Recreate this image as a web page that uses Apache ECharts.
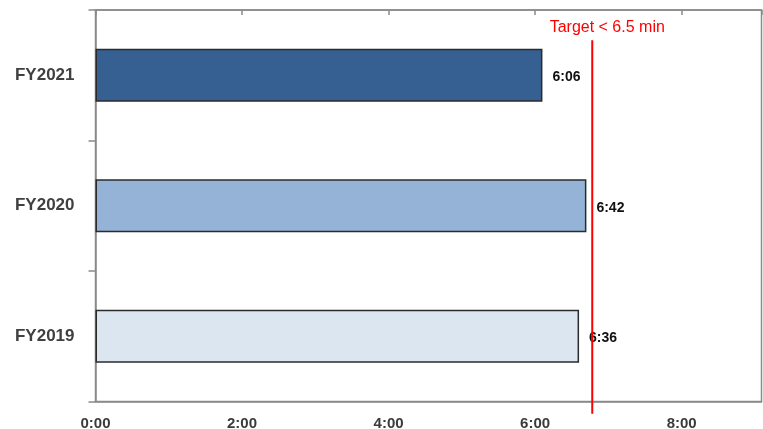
<!DOCTYPE html>
<html>
<head>
<meta charset="utf-8">
<script src="https://cdn.jsdelivr.net/npm/echarts@6/dist/echarts.min.js"></script>
<style>
html,body{margin:0;padding:0;background:#fff;}
#chart{width:763px;height:429px;}
</style>
</head>
<body>
<div id="chart"></div>
<script>
// Data (minutes)
var categories = ['FY2019', 'FY2020', 'FY2021'];
var times = [6.6, 6.7, 6.1];           // 6:36, 6:42, 6:06
var barColors = ['#dce6f1', '#95b3d7', '#366092'];
var xTickLabels = ['0:00', '2:00', '4:00', '6:00', '8:00'];
var targetValue = 6.78;                 // where the target line is drawn
var targetText = 'Target < 6.5 min';
var targetSpan = [-0.031, 0.923];       // vertical extent on hidden helper axis

function fmt(v) {
  var m = Math.floor(v + 1e-9);
  var s = Math.round((v - m) * 60);
  if (s === 60) { m += 1; s = 0; }
  return m + ':' + (s < 10 ? '0' : '') + s;
}

var chart = echarts.init(document.getElementById('chart'));
var font = 'Liberation Sans, Arial, sans-serif';
var gray = '#8a8a8a';

chart.setOption({
  animation: false,
  grid: {
    left: 95.5, right: 1.5, top: 10, bottom: 27.5,
    outerBoundsMode: 'none', containLabel: false,
    show: true, borderColor: gray, borderWidth: 1.5, backgroundColor: '#fff'
  },
  xAxis: [{
    type: 'value', position: 'bottom', min: 0, max: 9.09, interval: 2,
    axisLine: { show: true, lineStyle: { color: gray, width: 1.5 } },
    axisTick: { show: false },
    splitLine: { show: false },
    axisLabel: {
      showMaxLabel: false, margin: 15,
      fontFamily: font, fontWeight: 'bold', fontSize: 15, color: '#3a3a3a',
      formatter: function (v) { var l = fmt(v); return xTickLabels.indexOf(l) >= 0 ? l : ''; }
    }
  }, {
    type: 'value', position: 'top', min: 0, max: 9.09, interval: 2,
    axisLine: { show: true, lineStyle: { color: gray, width: 1.5 } },
    axisTick: { show: true, inside: true, length: 5, lineStyle: { color: gray, width: 1.5 } },
    axisLabel: { show: false },
    splitLine: { show: false }
  }],
  yAxis: [{
    type: 'category', data: categories,
    axisLine: { show: true, lineStyle: { color: gray, width: 1.5 } },
    axisTick: { show: true, length: 7, lineStyle: { color: gray, width: 1.5 } },
    axisLabel: { margin: 21, fontFamily: font, fontWeight: 'bold', fontSize: 17, color: '#404040' }
  }, {
    type: 'value', min: 0, max: 1, show: false
  }],
  series: [{
    type: 'bar',
    xAxisIndex: 0, yAxisIndex: 0,
    barWidth: 53,
    data: times.map(function (v, i) {
      return { value: v, itemStyle: { color: barColors[i] } };
    }),
    itemStyle: { borderColor: '#2b2b2b', borderWidth: 1.5 },
    label: {
      show: true, position: 'right', distance: 10, offset: [0, 2],
      fontFamily: font, fontWeight: 'bold', fontSize: 14, color: '#111',
      formatter: function (p) { return fmt(p.value); }
    },
    z: 2
  }, {
    type: 'line',
    xAxisIndex: 0, yAxisIndex: 1,
    clip: false,
    symbol: 'circle', symbolSize: 1, showSymbol: true,
    itemStyle: { color: 'rgba(0,0,0,0)' },
    lineStyle: { color: '#ff0000', width: 2 },
    data: [
      { value: [targetValue, targetSpan[0]] },
      { value: [targetValue, targetSpan[1]],
        label: { show: true, position: 'top', distance: 4, offset: [15, 0],
                 formatter: targetText, fontFamily: font, fontSize: 16, color: '#ff0000' } }
    ],
    z: 10
  }]
});
</script>
</body>
</html>
